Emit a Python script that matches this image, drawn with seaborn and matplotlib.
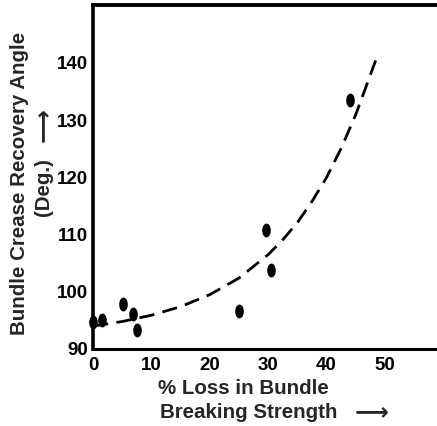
import numpy as np
import pandas as pd
import matplotlib
matplotlib.use("Agg")
import matplotlib.pyplot as plt
import seaborn as sns
from matplotlib.path import Path
from matplotlib.transforms import Affine2D

# data
loss_pct = [0.0, 1.6, 5.1, 6.8, 7.6, 25.0, 29.6, 30.4, 44.0]
recovery_angle = [94.8, 95.0, 97.9, 96.1, 93.3, 96.6, 110.8, 103.8, 133.6]

curve_x = [0, 5, 10, 15, 20, 25, 30, 32.5, 35, 37.5, 40, 42.5, 45, 46.8, 48.6]
curve_y = [94.0, 94.8, 95.9, 97.4, 99.5, 102.4, 106.5, 109.1, 112.1, 115.8,
           120.0, 125.1, 131.0, 136.0, 141.0]

x_ticks = [0, 10, 20, 30, 40, 50]
y_ticks = [90, 100, 110, 120, 130, 140]

sns.set_style("white")
plt.rcParams['font.family'] = ['Liberation Sans', 'DejaVu Sans']
plt.rcParams['font.weight'] = 'bold'

fig = plt.figure(figsize=(4.37, 4.26), dpi=100)
ax = fig.add_axes([0.2128, 0.1808, 0.7872, 0.807])

pts = pd.DataFrame({"x": loss_pct, "y": recovery_angle})
crv = pd.DataFrame({"x": curve_x, "y": curve_y})

oblong = Path.unit_circle().transformed(Affine2D().scale(0.62, 1.0))

sns.lineplot(data=crv, x="x", y="y", ax=ax, color="black", lw=2.0,
             linestyle=(0, (5.5, 3.0)), sort=True)
sns.scatterplot(data=pts, x="x", y="y", ax=ax, marker=oblong, s=100,
                color="black", edgecolor="black", linewidth=0, zorder=5,
                clip_on=False)

ax.set_xlim(0, 58.9)
ax.set_ylim(90, 150.1)
ax.set_xticks(x_ticks)
ax.set_yticks(y_ticks)
ax.set_xticklabels([str(v) for v in x_ticks], fontsize=13.5, fontweight='bold')
ax.set_yticklabels([str(v) for v in y_ticks], fontsize=13.5, fontweight='bold')
ax.tick_params(direction='in', length=5, width=1.8, colors='black')
ax.tick_params(axis='x', pad=6)
ax.tick_params(axis='y', pad=3.5)
ax.set_xlabel("")
ax.set_ylabel("")

for side in ['left', 'top', 'bottom']:
    ax.spines[side].set_color('black')
ax.spines['left'].set_linewidth(2.6)
ax.spines['top'].set_linewidth(2.8)
ax.spines['bottom'].set_linewidth(2.2)
ax.spines['right'].set_visible(False)

# y label (two lines)
fig.text(20 / 437, 1 - 183 / 426, "Bundle Crease Recovery Angle", rotation=90,
         ha='center', va='center', fontsize=14.8, fontweight='bold')
fig.text(43 / 437, 1 - 187 / 426, "(Deg.)", rotation=90,
         ha='center', va='center', fontsize=14.8, fontweight='bold')
fig.text(43 / 437, 1 - 125 / 426, "\u27f6", rotation=90,
         ha='center', va='center', fontsize=17, fontweight='bold',
         family=['DejaVu Sans'])

# x label (two lines)
fig.text(243 / 437, 1 - 388 / 426, "% Loss in Bundle",
         ha='center', va='center', fontsize=14.8, fontweight='bold')
fig.text(249 / 437, 1 - 412 / 426, "Breaking Strength",
         ha='center', va='center', fontsize=14.8, fontweight='bold')
fig.text(372 / 437, 1 - 412 / 426, "\u27f6",
         ha='center', va='center', fontsize=17, fontweight='bold',
         family=['DejaVu Sans'])

fig.savefig("out.png", dpi=100)
